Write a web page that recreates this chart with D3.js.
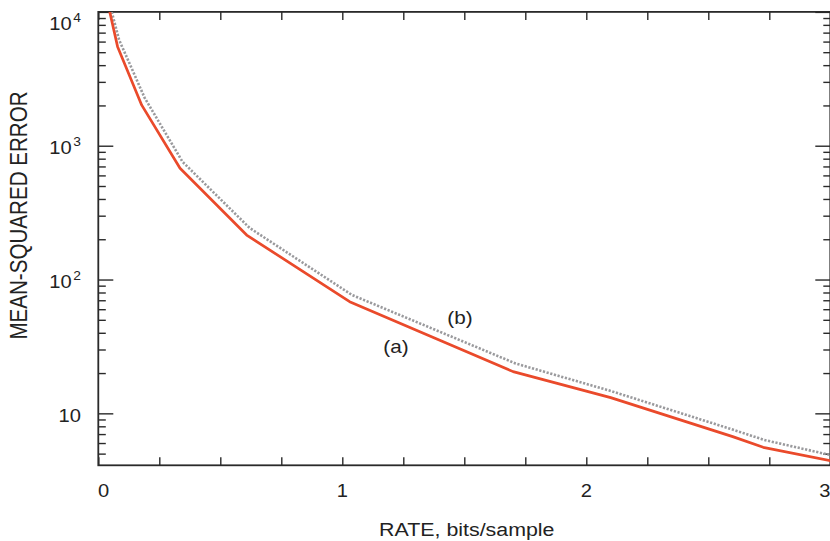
<!DOCTYPE html>
<html><head><meta charset="utf-8">
<script src="https://cdn.jsdelivr.net/npm/d3@7"></script>
<style>body{margin:0;background:#fff;} svg{display:block;}</style>
</head><body>
<svg id="c" width="830" height="541"></svg>
<script>
// ---- data ----
const rateA = [0.047, 0.079, 0.178, 0.335, 0.608, 1.03, 1.70, 2.10, 2.60, 2.725, 3.0];
const mseA  = [10000, 5500, 2010, 678, 215, 68.3, 20.5, 13.1, 6.7, 5.57, 4.43];
const rateB = [0.055, 0.085, 0.19, 0.345, 0.62, 1.04, 1.71, 2.10, 2.60, 2.73, 3.0];
const mseB  = [10000, 6200, 2280, 759, 243, 76.6, 23.6, 14.7, 7.56, 6.32, 4.88];
const xDomain = [0, 3];
const yDomain = [4.09, 10000];
const xTicks = [0, 0.25, 0.5, 0.75, 1, 1.25, 1.5, 1.75, 2, 2.25, 2.5, 2.75, 3];
const xLabels = [0, 1, 2, 3];
const yMajor = [10, 100, 1000, 10000];
const yMajorBase = ["10", "10", "10", "10"];
const yMajorExp = ["", "2", "3", "4"];
const yMinor = [5, 6, 7, 8, 9, 20, 30, 40, 50, 60, 70, 80, 90, 200, 300, 400, 500, 600, 700, 800, 900,
                2000, 3000, 4000, 5000, 6000, 7000, 8000, 9000];
const seriesNames = ["(a)", "(b)"];
const nameRate = [1.22, 1.482];
const nameMse = [31.3, 51.5];
const xTitle = "RATE, bits/sample";
const yTitle = "MEAN-SQUARED ERROR";

// ---- layout ----
const L = 98.3, R = 830.3, T = 11.9, B = 465.3;
const SX = 1.15; // horizontal stretch of the text
const ink = "#2a2a2a";
const svg = d3.select("#c");
const x = d3.scaleLinear().domain(xDomain).range([L, R]);
const y = d3.scaleLog().domain(yDomain).range([B, T]);

// clip
svg.append("defs").append("clipPath").attr("id", "clip")
  .append("rect").attr("x", L).attr("y", T).attr("width", R - L).attr("height", B - T);

function styleAxis(g, w) {
  g.select(".domain").remove();
  g.selectAll(".tick line").attr("stroke", ink).attr("stroke-width", w);
  g.selectAll(".tick text").remove();
}
// left axis (ticks inward)
svg.append("g").attr("transform", `translate(${L},0)`)
  .call(d3.axisRight(y).tickValues(yMajor).tickSize(15).tickSizeOuter(0).tickFormat(""))
  .call(g => styleAxis(g, 1.4));
svg.append("g").attr("transform", `translate(${L},0)`)
  .call(d3.axisRight(y).tickValues(yMinor).tickSize(7.5).tickSizeOuter(0).tickFormat(""))
  .call(g => styleAxis(g, 1.4));
// right axis
svg.append("g").attr("transform", `translate(${R},0)`)
  .call(d3.axisLeft(y).tickValues(yMajor).tickSize(15).tickSizeOuter(0).tickFormat(""))
  .call(g => styleAxis(g, 1.4));
svg.append("g").attr("transform", `translate(${R},0)`)
  .call(d3.axisLeft(y).tickValues(yMinor).tickSize(7).tickSizeOuter(0).tickFormat(""))
  .call(g => styleAxis(g, 1.4));
// bottom & top
svg.append("g").attr("transform", `translate(0,${B})`)
  .call(d3.axisTop(x).tickValues(xTicks).tickSize(8).tickSizeOuter(0).tickFormat(""))
  .call(g => styleAxis(g, 1.4));
svg.append("g").attr("transform", `translate(0,${T})`)
  .call(d3.axisBottom(x).tickValues(xTicks).tickSize(8).tickSizeOuter(0).tickFormat(""))
  .call(g => styleAxis(g, 1.4));

// frame
svg.append("rect").attr("x", L).attr("y", T).attr("width", R - L).attr("height", B - T)
  .attr("fill", "none").attr("stroke", ink).attr("stroke-width", 1.8);

// curves
const line = d3.line().x(d => x(d[0])).y(d => y(d[1]));
const dataA = rateA.map((r, i) => [r, mseA[i]]);
const dataB = rateB.map((r, i) => [r, mseB[i]]);
const plot = svg.append("g").attr("clip-path", "url(#clip)");
plot.append("path").datum(dataB).attr("d", line)
  .attr("fill", "none").attr("stroke", "#9a9a9d").attr("stroke-width", 2.6)
  .attr("stroke-dasharray", "2.2,1.6");
plot.append("path").datum(dataA).attr("d", line)
  .attr("fill", "none").attr("stroke", "#ea4a2b").attr("stroke-width", 2.7)
  .attr("stroke-linejoin", "round");

const font = "'Liberation Sans', Arial, Helvetica, sans-serif";
function txt(px, py, s, size, anchor) {
  return svg.append("text")
    .attr("transform", `translate(${px},${py}) scale(${SX},1)`)
    .attr("font-family", font).attr("font-size", size)
    .attr("text-anchor", anchor || "middle").attr("fill", "#222").text(s);
}

// x tick labels
xLabels.forEach((v, i) => {
  let dx = 0;
  if (i === 0) dx = 5.3;
  if (i === xLabels.length - 1) dx = -5.5;
  txt(x(v) + dx, 497.3, String(v), 17.5, "middle");
});

// y tick labels
yMajor.forEach((v, i) => {
  const by = Math.max(y(v) + 8.3, 30);
  const t = svg.append("text")
    .attr("transform", `translate(81,${by}) scale(${SX},1)`)
    .attr("font-family", font).attr("font-size", 17.5)
    .attr("text-anchor", "end").attr("fill", "#222");
  t.append("tspan").text(yMajorBase[i]);
  if (yMajorExp[i]) {
    t.append("tspan").attr("dx", 1.5).attr("dy", -7.8).attr("font-size", 12).text(yMajorExp[i]);
  }
});

// series labels
seriesNames.forEach((s, i) => {
  txt(x(nameRate[i]), y(nameMse[i]) + 6, s, 18, "middle");
});

// axis titles
txt((L + R) / 2 + 2.5, 536, xTitle, 18.6, "middle");
svg.append("text")
  .attr("transform", `translate(26.5,215.5) scale(${SX},1) rotate(-90)`)
  .attr("font-family", font).attr("font-size", 20.6)
  .attr("text-anchor", "middle").attr("fill", "#222").text(yTitle);
</script>
</body></html>
